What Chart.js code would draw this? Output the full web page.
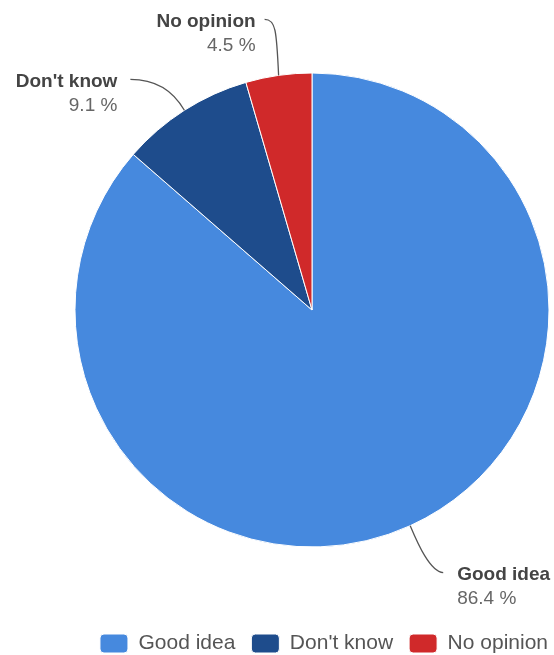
<!DOCTYPE html>
<html>
<head>
<meta charset="utf-8">
<title>Opinion poll</title>
<script src="https://cdn.jsdelivr.net/npm/chart.js@4/dist/chart.umd.min.js"></script>
<style>
  html, body { margin: 0; padding: 0; background: #ffffff; }
  #wrap { width: 554px; height: 655px; }
</style>
</head>
<body>
<div id="wrap"><canvas id="pie" width="554" height="655"></canvas></div>
<script>
// Survey answers (share of respondents, %)
const categories = ['Good idea', "Don't know", 'No opinion'];
const shares = [86.4, 9.1, 4.5];
const sliceColors = ['#4689de', '#1e4c8c', '#d0292a'];

// Leader-line geometry per slice, relative to the point on the rim at the slice middle:
// c1/c2 are bezier control points, end is where the line stops, side is the label side.
const callouts = [
  { c1: [8, 19], c2: [20, 46], end: [33, 47], side: 'right', gap: 14 },
  { c1: [-8, -14], c2: [-24, -31], end: [-54, -31], side: 'left', gap: 13 },
  { c1: [-2, -45], c2: [-3, -56], end: [-14, -56], side: 'left', gap: 9 }
];

const FONT = '"Liberation Sans", Arial, Helvetica, sans-serif';

const calloutPlugin = {
  id: 'calloutLabels',
  afterDatasetsDraw(chart) {
    const ctx = chart.ctx;
    const meta = chart.getDatasetMeta(0);
    meta.data.forEach((arc, i) => {
      const p = arc.getProps(['x', 'y', 'startAngle', 'endAngle', 'outerRadius'], true);
      const mid = (p.startAngle + p.endAngle) / 2;
      const ax = p.x + Math.cos(mid) * p.outerRadius;
      const ay = p.y + Math.sin(mid) * p.outerRadius;
      const c = callouts[i];
      const ex = ax + c.end[0], ey = ay + c.end[1];

      ctx.save();
      ctx.strokeStyle = '#555555';
      ctx.lineWidth = 1.3;
      ctx.beginPath();
      ctx.moveTo(ax, ay);
      ctx.bezierCurveTo(ax + c.c1[0], ay + c.c1[1], ax + c.c2[0], ay + c.c2[1], ex, ey);
      ctx.stroke();

      const tx = c.side === 'right' ? ex + c.gap : ex - c.gap;
      ctx.textAlign = c.side === 'right' ? 'left' : 'right';
      ctx.textBaseline = 'middle';
      ctx.fillStyle = '#444444';
      ctx.font = 'bold 19px ' + FONT;
      ctx.fillText(categories[i], tx, ey + 2);
      ctx.fillStyle = '#666666';
      ctx.font = '19px ' + FONT;
      ctx.fillText(shares[i].toFixed(1) + ' %', tx, ey + 26);
      ctx.restore();
    });
  }
};

// Moves the legend row to the lower right corner once the layout is settled.
const legendNudge = {
  id: 'legendNudge',
  afterLayout(chart) {
    const lg = chart.legend;
    lg.top += 9; lg.bottom += 9;
    lg.left += 10; lg.right += 10;
  }
};

new Chart(document.getElementById('pie'), {
  type: 'pie',
  data: {
    labels: categories,
    datasets: [{
      data: shares,
      backgroundColor: sliceColors,
      borderColor: '#ffffff',
      borderWidth: 1,
      radius: 237
    }]
  },
  options: {
    responsive: false,
    animation: false,
    rotation: 0,
    layout: { padding: { left: 70, right: 0, top: 12, bottom: 0 } },
    plugins: {
      tooltip: { enabled: false },
      legend: {
        position: 'bottom',
        align: 'end',
        labels: {
          boxWidth: 28,
          boxHeight: 19,
          useBorderRadius: true,
          borderRadius: 4,
          padding: 16,
          color: '#555555',
          font: { family: FONT, size: 21 }
        }
      }
    }
  },
  plugins: [calloutPlugin, legendNudge]
});
</script>
</body>
</html>
